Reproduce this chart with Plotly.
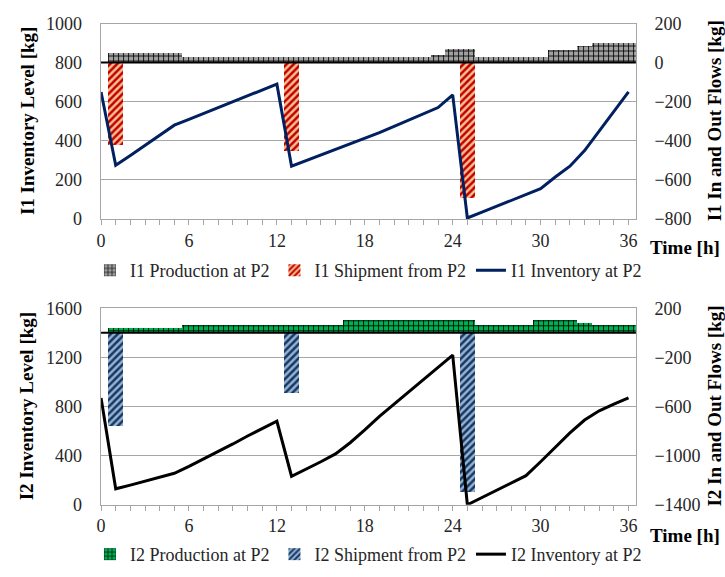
import plotly.graph_objects as go

# ---- data -------------------------------------------------------------
hours = list(range(0, 37))          # inventory sampled every hour
prod_hours = list(range(1, 37))     # production bars, one per hour

i1_production = [53, 53, 53, 53, 53,
                 33, 33, 33, 33, 33, 33, 33, 33, 33, 33, 33, 33, 33, 33, 33, 33, 33,
                 40, 70, 70,
                 33, 33, 33, 33, 33,
                 67, 67, 85, 103, 103, 103]
i1_ship_hours = [1, 13, 25]
i1_shipment = [-420, -450, -690]
i1_inventory = [650, 275, 325, 378, 430, 480, 510, 540, 570, 600, 630, 660, 690,
                270, 298, 326, 354, 382, 410, 442, 474, 506, 538, 570, 635,
                5, 35, 65, 95, 125, 155, 215, 270, 350, 450, 550, 650]

i2_production = [37, 37, 37, 37, 37,
                 63, 63, 63, 63, 63, 63, 63, 63, 63, 63, 63,
                 100, 100, 100, 100, 100, 100, 100, 100, 100,
                 63, 63, 63, 63,
                 100, 100, 100, 80, 65, 65, 65]
i2_ship_hours = [1, 13, 25]
i2_shipment = [-760, -490, -1300]
i2_inventory = [870, 130, 160, 190, 222, 256, 312, 372, 432, 495, 560, 620, 680,
                232, 290, 350, 414, 505, 610, 720, 820, 920, 1020, 1120, 1218,
                0, 60, 120, 178, 237, 350, 470, 585, 690, 765, 820, 870]

x_ticks = list(range(0, 37))
x_ticktext = [str(h) if h % 6 == 0 else "" for h in x_ticks]
i1_level_ticks = [0, 200, 400, 600, 800, 1000]
i1_flow_ticks = [-800, -600, -400, -200, 0, 200]
i2_level_ticks = [0, 400, 800, 1200, 1600]
i2_flow_ticks = [-1400, -1000, -600, -200, 200]

# ---- styling ----------------------------------------------------------
FONT = "Liberation Serif"
W, H = 725, 577
GRID = "#a6a6a6"
XDOM = [97 / W, 637 / W]
TOP_DOM = [(H - 216.5) / H, (H - 14) / H]
BOT_DOM = [(H - 512.5) / H, (H - 309) / H]


def pattern(shape, fg, size, solidity):
    return dict(shape=shape, fgcolor=fg, fgopacity=1, size=size,
                solidity=solidity, fillmode="overlay")


fig = go.Figure()

# top panel: I1
fig.add_trace(go.Bar(x=prod_hours, y=i1_production, xaxis="x", yaxis="y",
                     name="I1 Production at P2", legend="legend",
                     marker=dict(color="#a0a0a0", line_width=0,
                                 pattern=pattern("+", "black", 5, 0.3))))
fig.add_trace(go.Bar(x=i1_ship_hours, y=i1_shipment, xaxis="x", yaxis="y",
                     name="I1 Shipment from P2", legend="legend",
                     marker=dict(color="#fac090", line_width=0,
                                 pattern=pattern("/", "#c00000", 5, 0.5))))
fig.add_trace(go.Scatter(x=hours, y=i1_inventory, xaxis="x", yaxis="y2",
                         mode="lines", name="I1 Inventory at P2", legend="legend",
                         line=dict(color="#002060", width=3)))

# bottom panel: I2
fig.add_trace(go.Bar(x=prod_hours, y=i2_production, xaxis="x2", yaxis="y3",
                     name="I2 Production at P2", legend="legend2",
                     marker=dict(color="#00b050", line_width=0,
                                 pattern=pattern("+", "black", 5, 0.3))))
fig.add_trace(go.Bar(x=i2_ship_hours, y=i2_shipment, xaxis="x2", yaxis="y3",
                     name="I2 Shipment from P2", legend="legend2",
                     marker=dict(color="#95b3d7", line_width=0,
                                 pattern=pattern("/", "#17375e", 5, 0.5))))
fig.add_trace(go.Scatter(x=hours, y=i2_inventory, xaxis="x2", yaxis="y4",
                         mode="lines", name="I2 Inventory at P2", legend="legend2",
                         line=dict(color="black", width=3)))

tick_font = dict(family=FONT, size=18, color="#262626")


def xaxis(anchor):
    return dict(domain=XDOM, anchor=anchor, range=[0, 36.5],
                tickmode="array", tickvals=x_ticks, ticktext=x_ticktext,
                ticks="outside", ticklen=5, tickcolor=GRID, tickwidth=1,
                showline=True, linecolor=GRID, linewidth=1, mirror=True,
                showgrid=False, zeroline=False, tickfont=tick_font,
                ticklabelstandoff=0)


def flow_axis(domain, rng, ticks, anchor):
    return dict(domain=domain, anchor=anchor, side="right", range=rng,
                tickmode="array", tickvals=ticks,
                showgrid=True, gridcolor=GRID, gridwidth=1, zeroline=False,
                showline=True, linecolor=GRID, linewidth=1, mirror=True,
                ticks="", tickfont=tick_font, ticklabelstandoff=14)


def level_axis(over, rng, ticks, anchor):
    return dict(overlaying=over, anchor=anchor, side="left", range=rng,
                tickmode="array", tickvals=ticks, showgrid=False, zeroline=False,
                showline=False, ticks="", tickfont=tick_font,
                ticklabelstandoff=18)


title_font = dict(family=FONT, size=19, color="black")
annotations = []
for text, x, y, angle in [
    ("<b>I1 Inventory Level [kg]</b>", 22 / W, sum(TOP_DOM) / 2, -90),
    ("<b>I1 In and Out Flows [kg]</b>", 716 / W, sum(TOP_DOM) / 2, -90),
    ("<b>Time [h]</b>", 687 / W, (H - 246) / H, 0),
    ("<b>I2 Inventory Level [kg]</b>", 22 / W, sum(BOT_DOM) / 2, -90),
    ("<b>I2 In and Out Flows [kg]</b>", 716 / W, sum(BOT_DOM) / 2, -90),
    ("<b>Time [h]</b>", 687 / W, (H - 544) / H, 0),
]:
    annotations.append(dict(text=text, x=x, y=y, xref="paper", yref="paper",
                            textangle=angle, showarrow=False, font=title_font,
                            xanchor="center", yanchor="middle"))

shapes = [
    dict(type="line", xref="x domain", yref="y", x0=0, x1=1, y0=0, y1=0,
         line=dict(color="black", width=2), layer="above"),
    dict(type="line", xref="x2 domain", yref="y3", x0=0, x1=1, y0=0, y1=0,
         line=dict(color="black", width=2), layer="above"),
]

legend_common = dict(orientation="h", xanchor="center", x=367 / W, yanchor="middle",
                     font=dict(family=FONT, size=18, color="#262626"),
                     bgcolor="rgba(0,0,0,0)", traceorder="normal", itemwidth=30)

fig.update_layout(
    width=W, height=H,
    margin=dict(l=0, r=0, t=0, b=0),
    paper_bgcolor="white", plot_bgcolor="white",
    font=dict(family=FONT, size=18, color="#262626"),
    barmode="relative", bargap=0,
    xaxis=xaxis("y"),
    yaxis=flow_axis(TOP_DOM, [-800, 200], i1_flow_ticks, "x"),
    yaxis2=level_axis("y", [0, 1000], i1_level_ticks, "x"),
    xaxis2=xaxis("y3"),
    yaxis3=flow_axis(BOT_DOM, [-1400, 200], i2_flow_ticks, "x2"),
    yaxis4=level_axis("y3", [0, 1600], i2_level_ticks, "x2"),
    legend=dict(legend_common, y=(H - 270) / H),
    legend2=dict(legend_common, y=(H - 564) / H),
    annotations=annotations,
    shapes=shapes,
    showlegend=True,
)

fig.write_html("out.html")
